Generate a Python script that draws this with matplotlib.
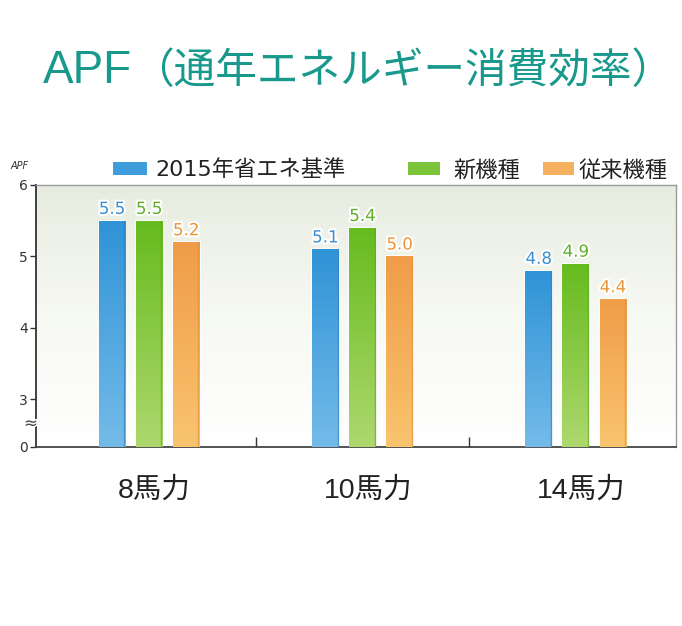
import numpy as np
import matplotlib
matplotlib.use("Agg")
import matplotlib.pyplot as plt
import matplotlib.patheffects as pe
from matplotlib.colors import LinearSegmentedColormap
from matplotlib.patches import Patch

plt.rcParams['font.family'] = ['Liberation Sans', 'Noto Sans CJK JP', 'DejaVu Sans']

# ---- data ----
categories = ['8馬力', '10馬力', '14馬力']
series_names = ['2015年省エネ基準', '新機種', '従来機種']
standard_2015 = [5.5, 5.1, 4.8]
new_model = [5.5, 5.4, 4.9]
old_model = [5.2, 5.0, 4.4]
ytick_values = [3, 4, 5, 6]
ytick_labels = ['3', '4', '5', '6']

series = [standard_2015, new_model, old_model]
top_colors = ['#2f93d6', '#66bb1e', '#f09c48']
bot_colors = ['#74bbe9', '#aed86e', '#f9c46e']
edge_colors = ['#2a7fbf', '#5aa520', '#e08c3a']
label_colors = ['#3a8fd0', '#5fae2a', '#e8963a']
legend_colors = ['#3f9ddb', '#7cc43a', '#f5b060']
title_color = '#18998b'

ybottom = 2.33
ytop = 6.0

fig = plt.figure(figsize=(6.82, 6.26), dpi=100)
ax = fig.add_axes([36/682, (626-447)/626, 640/682, (447-185)/626])
ax.set_xlim(-0.53, 2.47)
ax.set_ylim(ybottom, ytop)

# background gradient
bg = LinearSegmentedColormap.from_list('bg', ['#ffffff', '#f7f9f3', '#e7ece0'])
grad = np.linspace(0, 1, 256).reshape(-1, 1)
ax.imshow(grad, extent=[-0.53, 2.47, ybottom, ytop], origin='lower',
          aspect='auto', cmap=bg, zorder=0)

x = np.arange(len(categories))
width = 0.125
step = 0.174
for i, vals in enumerate(series):
    pos = x + (i - 1) * step
    bars = ax.bar(pos, np.array(vals) - ybottom, width, bottom=ybottom,
                  color='none', edgecolor='white', linewidth=1.2, zorder=2)
    cm = LinearSegmentedColormap.from_list('c%d' % i, [bot_colors[i], top_colors[i]])
    for b, v in zip(bars, vals):
        x0 = b.get_x()
        im = ax.imshow(grad, extent=[x0, x0 + width, ybottom, v], origin='lower',
                       aspect='auto', cmap=cm, zorder=3)
        im.set_clip_path(b)
        ax.plot([x0 + width * 0.96] * 2, [ybottom, v], color=edge_colors[i],
                lw=1.0, alpha=0.6, zorder=4)
        ax.text(x0 + width / 2, v + 0.04, f'{v:.1f}', ha='center', va='bottom',
                fontsize=12, color=label_colors[i], family='DejaVu Sans', zorder=5,
                path_effects=[pe.withStroke(linewidth=3, foreground='white')])

ax.set_xlim(-0.53, 2.47)
ax.set_ylim(ybottom, ytop)

# spines
for s in ['top', 'right']:
    ax.spines[s].set_color('#9a9a9a')
    ax.spines[s].set_linewidth(1.0)
ax.spines['left'].set_color('#333333')
ax.spines['bottom'].set_color('#444444')
ax.spines['left'].set_linewidth(1.3)
ax.spines['bottom'].set_linewidth(1.3)

ax.set_yticks([ybottom] + ytick_values)
ax.set_yticklabels(['0'] + ytick_labels, family='DejaVu Sans', fontsize=10, color='#333333')
ax.tick_params(axis='y', length=4, width=1, color='#333333', pad=2)

ax.set_xticks([0.5, 1.5])
ax.set_xticklabels([])
ax.tick_params(axis='x', direction='in', length=7, width=1, color='#333333')

# category labels
for xi, c in zip(x, categories):
    ax.text(xi + 0.025, -0.165, c, transform=ax.get_xaxis_transform(), ha='center',
            va='center', fontsize=20.5, color='#222222')

# axis break marker and unit label
ax.text(-0.008, (2.66 - ybottom) / (ytop - ybottom), '≈', transform=ax.transAxes,
        ha='center', va='center', fontsize=12, color='#444444', family='DejaVu Sans',
        path_effects=[pe.withStroke(linewidth=2, foreground='white')], zorder=10)
fig.text(20/682, 1 - 166/626, 'APF', ha='center', va='center', fontsize=7,
         style='italic', color='#333333', family='DejaVu Sans')

# legend: one entry per item, placed at the reference's positions
legend_x = [113/682, 408/682, 543/682]
legend_hl = [1.55, 1.45, 1.4]
legend_pad = [0.36, 0.6, 0.2]
legend_fam = [['DejaVu Sans', 'Noto Sans CJK JP'], ['Noto Sans CJK JP'], ['Noto Sans CJK JP']]
for i in range(3):
    h = Patch(facecolor=legend_colors[i], edgecolor='none')
    fig.legend([h], [series_names[i]], loc='center left',
               bbox_to_anchor=(legend_x[i], 1 - 170/626), frameon=False,
               prop={'family': legend_fam[i], 'size': 16},
               handlelength=legend_hl[i], handleheight=0.55,
               handletextpad=legend_pad[i], borderpad=0, borderaxespad=0,
               labelcolor='#222222')

# title: Latin part and Japanese part
fig.text(43/682, 1 - 83/626, 'APF', ha='left', va='baseline',
         fontsize=33, color=title_color, family='Liberation Sans')
fig.text(132/682, 1 - 83/626, '（通年エネルギー消費効率）', ha='left', va='baseline',
         fontsize=30, color=title_color, family='Noto Sans CJK JP')

fig.savefig('out.png', dpi=100)
